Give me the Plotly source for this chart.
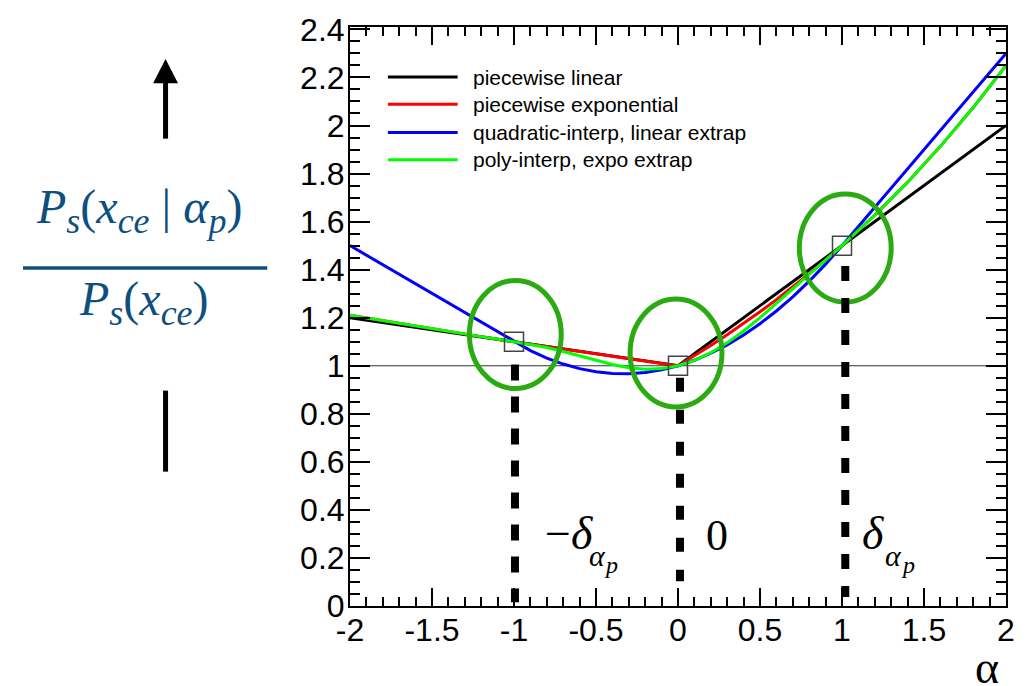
import plotly.graph_objects as go

# Nuisance-parameter value alpha and the four interpolation schemes (ratio to nominal)
alpha = [-2.0, -1.8, -1.6, -1.4, -1.2,
         -1.0, -0.9, -0.8, -0.7, -0.6, -0.5, -0.4, -0.3, -0.2, -0.1, 0.0,
         0.1, 0.2, 0.3, 0.4, 0.5, 0.6, 0.7, 0.8, 0.9, 1.0,
         1.2, 1.4, 1.6, 1.8, 2.0]

piecewise_linear = [1.20, 1.18, 1.16, 1.14, 1.12,
                    1.10, 1.09, 1.08, 1.07, 1.06, 1.05, 1.04, 1.03, 1.02, 1.01, 1.00,
                    1.05, 1.10, 1.15, 1.20, 1.25, 1.30, 1.35, 1.40, 1.45, 1.50,
                    1.60, 1.70, 1.80, 1.90, 2.00]

piecewise_exponential = [1.2100, 1.1872, 1.1647, 1.1428, 1.1212,
                         1.1000, 1.0896, 1.0792, 1.0690, 1.0589, 1.0488, 1.0389, 1.0290, 1.0192, 1.0096, 1.0000,
                         1.0414, 1.0845, 1.1293, 1.1761, 1.2247, 1.2754, 1.3282, 1.3832, 1.4404, 1.5000,
                         1.6267, 1.7641, 1.9131, 2.0747, 2.2500]

quadratic_linear = [1.500, 1.420, 1.340, 1.260, 1.180,
                    1.100, 1.063, 1.032, 1.007, 0.988, 0.975, 0.968, 0.967, 0.972, 0.983, 1.000,
                    1.023, 1.052, 1.087, 1.128, 1.175, 1.228, 1.287, 1.352, 1.423, 1.500,
                    1.660, 1.820, 1.980, 2.140, 2.300]

poly_expo = [1.2100, 1.1872, 1.1647, 1.1428, 1.1212,
             1.1000, 1.0890, 1.0757, 1.0594, 1.0408, 1.0219, 1.0049, 0.9921, 0.9859, 0.9881, 1.0000,
             1.0221, 1.0543, 1.0953, 1.1449, 1.2000, 1.2587, 1.3192, 1.3799, 1.4399, 1.5000,
             1.6267, 1.7641, 1.9131, 2.0747, 2.2500]

series_names = ["piecewise linear", "piecewise exponential",
                "quadratic-interp, linear extrap", "poly-interp, expo extrap"]
series_values = [piecewise_linear, piecewise_exponential, quadratic_linear, poly_expo]
series_colors = ["#000000", "#ff0000", "#0000ff", "#00ff00"]

# Knots: -delta, nominal, +delta
knot_alpha = [-1.0, 0.0, 1.0]
knot_ratio = [1.1, 1.0, 1.5]

x_tick_vals = [-2, -1.5, -1, -0.5, 0, 0.5, 1, 1.5, 2]
x_tick_text = ["-2", "-1.5", "-1", "-0.5", "0", "0.5", "1", "1.5", "2"]
y_tick_vals = [0, 0.2, 0.4, 0.6, 0.8, 1, 1.2, 1.4, 1.6, 1.8, 2, 2.2, 2.4]
y_tick_text = ["0", "0.2", "0.4", "0.6", "0.8", "1", "1.2", "1.4", "1.6", "1.8", "2", "2.2", "2.4"]

# Canvas geometry
W, H = 1027, 686
ML, MR, MT, MB = 350, 19, 20, 80


def fx(px):
    return (px - ML) / (W - ML - MR)


def fy(py):
    return (H - MB - py) / (H - MT - MB)


BLUE_TXT = "#0f4f80"
GREEN_RING = "#2aab12"
SERIF = "Liberation Serif"
SANS = "Liberation Sans"


def sub(txt, size):
    return f"<sub><span style='font-size:{size}px'><i>{txt}</i></span></sub>"


fig = go.Figure()

for name, vals, col in zip(series_names, series_values, series_colors):
    fig.add_trace(go.Scatter(x=alpha, y=vals, mode="lines", name=name,
                             line=dict(color=col, width=3), showlegend=False,
                             hoverinfo="skip"))

fig.add_trace(go.Scatter(x=knot_alpha, y=knot_ratio, mode="markers", showlegend=False,
                         marker=dict(symbol="square-open", size=19, color="#444444",
                                     line=dict(width=1.5, color="#444444"))))

shapes = []
annotations = []

# reference line at ratio = 1
shapes.append(dict(type="line", xref="x", yref="y", x0=-2, x1=2, y0=1, y1=1,
                   line=dict(color="#333333", width=1.2), layer="below"))

# rings around the knots
ring_centers = [(-0.992, 1.130), (-0.012, 1.053), (1.020, 1.490)]
for cx, cy in ring_centers:
    shapes.append(dict(type="circle", xref="x", yref="y",
                       x0=cx - 0.28, x1=cx + 0.28, y0=cy - 0.225, y1=cy + 0.225,
                       line=dict(color=GREEN_RING, width=5)))

# thick dashed drop lines under the knots
drops = [(-0.994, 1.005, 0.016, "16px,16px"),
         (0.012, 0.950, 0.103, "14px,18px"),
         (1.020, 1.415, 0.037, "15px,17px")]
for xd, ytop, ybot, dash in drops:
    shapes.append(dict(type="line", xref="x", yref="y", x0=xd, x1=xd, y0=ytop, y1=ybot,
                       line=dict(color="black", width=8, dash=dash)))

# legend block
legend_rows = [70.7, 98.3, 126.7, 154.3]
for name, col, row in zip(series_names, series_colors, legend_rows):
    shapes.append(dict(type="line", xref="paper", yref="paper",
                       x0=fx(388), x1=fx(458), y0=fy(row), y1=fy(row),
                       line=dict(color=col, width=3)))
    annotations.append(dict(xref="paper", yref="paper", x=fx(471), y=fy(row),
                            xanchor="left", yanchor="middle", showarrow=False,
                            text=name, font=dict(family=SANS, size=21, color="black")))

# knot labels
annotations.append(dict(xref="paper", yref="paper", x=fx(596), y=fy(533),
                        xanchor="right", yanchor="middle", showarrow=False,
                        text="−<i>δ</i>", font=dict(family=SERIF, size=46, color="black")))
annotations.append(dict(xref="paper", yref="paper", x=fx(598), y=fy(555),
                        xanchor="center", yanchor="middle", showarrow=False,
                        text="<i>α</i>", font=dict(family=SERIF, size=30, color="black")))
annotations.append(dict(xref="paper", yref="paper", x=fx(612), y=fy(565),
                        xanchor="center", yanchor="middle", showarrow=False,
                        text="<i>p</i>", font=dict(family=SERIF, size=24, color="black")))

annotations.append(dict(xref="paper", yref="paper", x=fx(718.5), y=fy(535),
                        xanchor="center", yanchor="middle", showarrow=False,
                        text="0", font=dict(family=SERIF, size=44, color="black")))

annotations.append(dict(xref="paper", yref="paper", x=fx(888), y=fy(533),
                        xanchor="right", yanchor="middle", showarrow=False,
                        text="<i>δ</i>", font=dict(family=SERIF, size=46, color="black")))
annotations.append(dict(xref="paper", yref="paper", x=fx(895), y=fy(555),
                        xanchor="center", yanchor="middle", showarrow=False,
                        text="<i>α</i>", font=dict(family=SERIF, size=30, color="black")))
annotations.append(dict(xref="paper", yref="paper", x=fx(910), y=fy(565),
                        xanchor="center", yanchor="middle", showarrow=False,
                        text="<i>p</i>", font=dict(family=SERIF, size=24, color="black")))

# x-axis title
annotations.append(dict(xref="paper", yref="paper", x=fx(989), y=fy(668),
                        xanchor="center", yanchor="middle", showarrow=False,
                        text="α", font=dict(family=SERIF, size=46, color="black")))

# y-axis quantity written as a fraction, with arrow
annotations.append(dict(xref="paper", yref="paper", x=fx(138), y=fy(206),
                        xanchor="center", yanchor="middle", showarrow=False,
                        text="<i>P</i>" + sub("s", 36) + "(<i>x</i>" + sub("ce", 36)
                             + " | <i>α</i>" + sub("p", 36) + ")",
                        font=dict(family=SERIF, size=48, color=BLUE_TXT)))
annotations.append(dict(xref="paper", yref="paper", x=fx(143), y=fy(299),
                        xanchor="center", yanchor="middle", showarrow=False,
                        text="<i>P</i>" + sub("s", 36) + "(<i>x</i>" + sub("ce", 36) + ")",
                        font=dict(family=SERIF, size=48, color=BLUE_TXT)))
shapes.append(dict(type="line", xref="paper", yref="paper",
                   x0=fx(22), x1=fx(267), y0=fy(264), y1=fy(264),
                   line=dict(color=BLUE_TXT, width=3.5)))

shapes.append(dict(type="line", xref="paper", yref="paper",
                   x0=fx(165), x1=fx(165), y0=fy(133), y1=fy(74),
                   line=dict(color="black", width=5)))
shapes.append(dict(type="path", xref="paper", yref="paper",
                   path=f"M {fx(152.5)} {fy(77)} L {fx(177.5)} {fy(77)} L {fx(165)} {fy(52.5)} Z",
                   fillcolor="black", line=dict(color="black", width=0)))
shapes.append(dict(type="line", xref="paper", yref="paper",
                   x0=fx(165), x1=fx(165), y0=fy(388), y1=fy(470),
                   line=dict(color="black", width=5)))

axis_common = dict(showgrid=False, zeroline=False, showline=True, linecolor="black",
                   linewidth=2, mirror="ticks", ticks="inside", tickcolor="black",
                   tickwidth=2, tickmode="array",
                   tickfont=dict(family=SANS, size=32, color="black"))

fig.update_layout(
    width=W, height=H,
    margin=dict(l=ML, r=MR, t=MT, b=MB, pad=0),
    paper_bgcolor="white", plot_bgcolor="white",
    showlegend=False,
    xaxis=dict(range=[-2, 2], tickvals=x_tick_vals, ticktext=x_tick_text, ticklen=18,
               ticklabelstandoff=-5,
               minor=dict(dtick=0.1, tick0=0, ticks="inside", ticklen=9,
                          tickwidth=2, tickcolor="black", showgrid=False),
               **axis_common),
    yaxis=dict(range=[0, 2.41], tickvals=y_tick_vals, ticktext=y_tick_text, ticklen=20,
               ticklabelstandoff=-3,
               minor=dict(dtick=0.05, tick0=0, ticks="inside", ticklen=10,
                          tickwidth=2, tickcolor="black", showgrid=False),
               **axis_common),
    shapes=shapes,
    annotations=annotations,
)

fig.write_html("out.html")
